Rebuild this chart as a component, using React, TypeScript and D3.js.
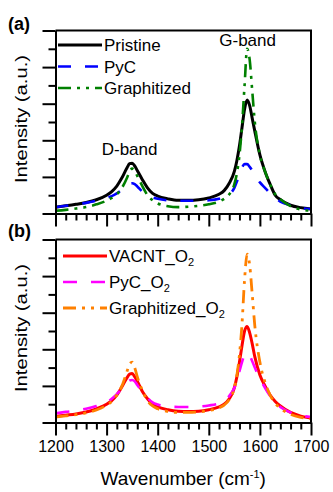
import React, { useEffect, useRef } from 'react'
import * as d3 from 'd3'

// Raman spectra (arbitrary intensity units, 0-10 per panel)
const wavenumbers = [1200, 1220, 1240, 1260, 1280, 1300, 1310, 1320, 1330, 1340, 1345, 1350, 1355, 1360, 1370, 1380, 1390, 1400, 1420, 1440, 1460, 1480, 1500, 1520, 1530, 1540, 1550, 1555, 1560, 1565, 1570, 1575, 1580, 1585, 1590, 1600, 1610, 1620, 1630, 1640, 1660, 1680, 1700]

const pristine = [0.35, 0.42, 0.5, 0.6, 0.75, 1.0, 1.2, 1.5, 1.95, 2.5, 2.72, 2.75, 2.6, 2.35, 1.85, 1.4, 1.1, 0.95, 0.8, 0.72, 0.72, 0.75, 0.85, 1.05, 1.25, 1.65, 2.3, 2.9, 3.7, 4.7, 5.7, 6.2, 5.9, 5.2, 4.5, 3.2, 2.3, 1.6, 1.0, 0.75, 0.45, 0.32, 0.25]
const pyc = [0.35, 0.42, 0.5, 0.58, 0.7, 0.85, 0.95, 1.1, 1.3, 1.52, 1.62, 1.65, 1.6, 1.48, 1.2, 1.0, 0.88, 0.8, 0.72, 0.7, 0.7, 0.7, 0.72, 0.8, 0.9, 1.05, 1.4, 1.75, 2.15, 2.5, 2.7, 2.7, 2.55, 2.35, 2.1, 1.7, 1.4, 1.1, 0.85, 0.65, 0.45, 0.3, 0.25]
const graphitized = [0.15, 0.2, 0.27, 0.35, 0.5, 0.7, 0.85, 1.05, 1.4, 1.95, 2.3, 2.45, 2.35, 2.05, 1.5, 1.0, 0.72, 0.55, 0.4, 0.35, 0.37, 0.42, 0.5, 0.65, 0.8, 1.05, 1.6, 2.2, 3.2, 4.8, 7.0, 9.0, 8.4, 6.7, 5.0, 3.2, 2.3, 1.6, 1.05, 0.78, 0.4, 0.22, 0.15]

const vacntO2 = [0.33, 0.4, 0.47, 0.57, 0.75, 1.0, 1.2, 1.5, 1.95, 2.45, 2.65, 2.68, 2.5, 2.25, 1.7, 1.3, 1.0, 0.85, 0.7, 0.62, 0.6, 0.62, 0.7, 0.85, 1.0, 1.3, 1.9, 2.5, 3.3, 4.2, 5.0, 5.25, 4.9, 4.3, 3.6, 2.6, 2.0, 1.5, 1.15, 0.9, 0.55, 0.35, 0.25]
const pycO2 = [0.5, 0.58, 0.65, 0.75, 0.9, 1.1, 1.3, 1.55, 1.85, 2.15, 2.3, 2.32, 2.25, 2.05, 1.7, 1.35, 1.1, 0.98, 0.88, 0.85, 0.85, 0.87, 0.93, 1.05, 1.2, 1.45, 1.9, 2.3, 2.8, 3.3, 3.7, 3.8, 3.65, 3.35, 3.0, 2.4, 1.9, 1.45, 1.1, 0.85, 0.55, 0.38, 0.3]
const graphitizedO2 = [0.3, 0.36, 0.43, 0.52, 0.68, 0.95, 1.15, 1.5, 2.0, 2.8, 3.2, 3.3, 3.0, 2.5, 1.75, 1.2, 0.9, 0.75, 0.6, 0.55, 0.55, 0.58, 0.65, 0.8, 0.95, 1.25, 1.9, 2.6, 3.7, 5.4, 7.8, 9.2, 8.6, 7.0, 5.3, 3.3, 2.2, 1.5, 1.05, 0.78, 0.45, 0.28, 0.2]

const xMajorTicks = [1200, 1300, 1400, 1500, 1600, 1700]
const xMinorTicks = d3.range(1220, 1700, 20).filter(v => v % 100 !== 0)
const yMajorTicks = [0, 2, 4, 6, 8, 10]
const yMinorTicks = [1, 3, 5, 7, 9]

const FONT = '"Liberation Sans", Arial, sans-serif'

const panels = [
  {
    label: '(a)', top: 30.5, labelY: 30, legendX: 58, legendY: 45, legendStep: 21.5,
    series: [
      { name: 'Pristine', sub: '', values: pristine, color: '#000000', dash: null, width: 3 },
      { name: 'PyC', sub: '', values: pyc, color: '#0000ff', dash: '13,14', width: 2.6 },
      { name: 'Graphitized', sub: '', values: graphitized, color: '#008000', dash: '13,6,3,6,3,6', width: 2.6 },
    ],
    notes: [
      { text: 'D-band', x: 1345, y: 155 },
      { text: 'G-band', x: 1576, y: 46 },
    ],
    labels: false,
  },
  {
    label: '(b)', top: 239.5, labelY: 237, legendX: 63, legendY: 256, legendStep: 26,
    series: [
      { name: 'VACNT_O', sub: '2', values: vacntO2, color: '#ff0000', dash: null, width: 3 },
      { name: 'PyC_O', sub: '2', values: pycO2, color: '#ff00ff', dash: '14,14', width: 2.6 },
      { name: 'Graphitized_O', sub: '2', values: graphitizedO2, color: '#ff8000', dash: '13,6,3,6,3,6', width: 2.8 },
    ],
    notes: [],
    labels: true,
  },
]

const W = 333
const H = 492
const left = 55.5
const right = 311
const panelH = 183

export default function App() {
  const ref = useRef<SVGSVGElement>(null)

  useEffect(() => {
    const svg = d3.select(ref.current)
    svg.selectAll('*').remove()

    const x = d3.scaleLinear().domain([1200, 1700]).range([left, right])

    panels.forEach(p => {
      const y = d3.scaleLinear().domain([0, 10]).range([p.top + panelH, p.top])
      const g = svg.append('g')

      // curves
      const line = d3.line<number>()
        .x((d, i) => x(wavenumbers[i]))
        .y(d => y(d))
        .curve(d3.curveMonotoneX)

      p.series.forEach(s => {
        g.append('path')
          .attr('d', line(s.values))
          .attr('fill', 'none')
          .attr('stroke', s.color)
          .attr('stroke-width', s.width)
          .attr('stroke-dasharray', s.dash)
          .attr('stroke-linejoin', 'round')
      })

      // frame (top + right)
      g.append('path')
        .attr('d', `M${left},${p.top}H${right}V${p.top + panelH}`)
        .attr('fill', 'none')
        .attr('stroke', '#000')
        .attr('stroke-width', 2)

      // axes
      const bottom = p.top + panelH
      const axMajorX = g.append('g').attr('transform', `translate(0,${bottom})`)
        .call(d3.axisBottom(x).tickValues(xMajorTicks).tickSize(13).tickSizeOuter(0).tickPadding(5).tickFormat(p.labels ? d3.format('d') : () => ''))
      const axMinorX = g.append('g').attr('transform', `translate(0,${bottom})`)
        .call(d3.axisBottom(x).tickValues(xMinorTicks).tickSize(7).tickSizeOuter(0).tickFormat(() => ''))
      const axMajorY = g.append('g').attr('transform', `translate(${left},0)`)
        .call(d3.axisLeft(y).tickValues(yMajorTicks).tickSize(13).tickSizeOuter(0).tickFormat(() => ''))
      const axMinorY = g.append('g').attr('transform', `translate(${left},0)`)
        .call(d3.axisLeft(y).tickValues(yMinorTicks).tickSize(7).tickSizeOuter(0).tickFormat(() => ''))

      ;[axMajorX, axMinorX, axMajorY, axMinorY].forEach(a => {
        a.selectAll('path, line').attr('stroke', '#000').attr('stroke-width', 2)
        a.selectAll('text')
          .attr('fill', '#000')
          .style('font-family', FONT)
          .style('font-size', '16px')
      })

      // y title
      g.append('text')
        .attr('transform', `translate(27,${p.top + panelH / 2 - 3}) rotate(-90)`)
        .attr('text-anchor', 'middle')
        .attr('textLength', 128)
        .attr('lengthAdjust', 'spacingAndGlyphs')
        .style('font-family', FONT)
        .style('font-size', '17px')
        .text('Intensity (a.u.)')

      // panel label
      g.append('text')
        .attr('x', 8)
        .attr('y', p.labelY)
        .style('font-family', FONT)
        .style('font-size', '18px')
        .style('font-weight', 'bold')
        .text(p.label)

      // legend
      p.series.forEach((s, i) => {
        const ly = p.legendY + i * p.legendStep
        g.append('line')
          .attr('x1', p.legendX).attr('x2', p.legendX + 44)
          .attr('y1', ly).attr('y2', ly)
          .attr('stroke', s.color)
          .attr('stroke-width', s.width)
          .attr('stroke-dasharray', s.dash)
        const t = g.append('text')
          .attr('x', p.legendX + 46)
          .attr('y', ly + 6)
          .style('font-family', FONT)
          .style('font-size', '17px')
        t.append('tspan').text(s.name)
        if (s.sub) {
          t.append('tspan').attr('dy', 4).style('font-size', '11px').text(s.sub)
        }
      })

      // band annotations
      p.notes.forEach(n => {
        g.append('text')
          .attr('x', x(n.x))
          .attr('y', n.y)
          .attr('text-anchor', 'middle')
          .style('font-family', FONT)
          .style('font-size', '17px')
          .text(n.text)
      })
    })

    // x title
    const xt = svg.append('text')
      .attr('x', (left + right) / 2)
      .attr('y', 485)
      .attr('text-anchor', 'middle')
      .style('font-family', FONT)
      .style('font-size', '19px')
    xt.append('tspan').text('Wavenumber (cm')
    xt.append('tspan').attr('dy', -7).style('font-size', '11px').text('-1')
    xt.append('tspan').attr('dy', 7).text(')')
  }, [])

  return (
    <svg
      ref={ref}
      width={W}
      height={H}
      style={{ position: 'absolute', left: 0, top: 0, background: '#fff' }}
    />
  )
}
